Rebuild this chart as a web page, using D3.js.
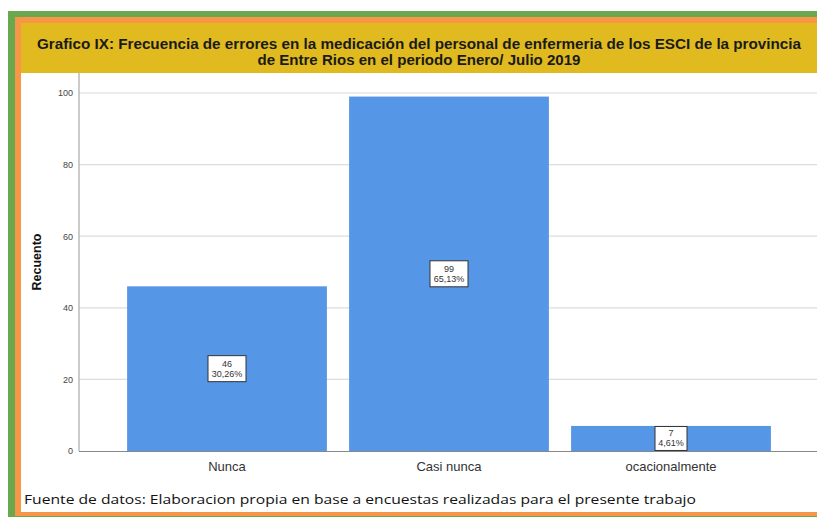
<!DOCTYPE html>
<html><head><meta charset="utf-8">
<script src="https://cdn.jsdelivr.net/npm/d3@7"></script>
<style>body{margin:0;background:#fff}svg{display:block}</style>
</head><body>
<script>
const categories = ["Nunca", "Casi nunca", "ocacionalmente"];
const counts = [46, 99, 7];
const percents = ["30,26%", "65,13%", "4,61%"];
const yTicks = [0, 20, 40, 60, 80, 100];
const titleLines = ["Grafico IX: Frecuencia de errores en la medicación del personal de enfermeria de los ESCI de la provincia", "de Entre Rios en el periodo Enero/ Julio 2019"];
const yTitle = "Recuento";
const footer = "Fuente de datos: Elaboracion propia en base a encuestas realizadas para el presente trabajo";

const W = 817, H = 517;
const svg = d3.select("body").append("svg").attr("width", W).attr("height", H);

// frame
svg.append("rect").attr("x", 8).attr("y", 11).attr("width", W - 8).attr("height", H - 11).attr("fill", "#6aa84f");
svg.append("rect").attr("x", 15).attr("y", 17).attr("width", W - 15).attr("height", 499).attr("fill", "#f79646");
svg.append("rect").attr("x", 21).attr("y", 23).attr("width", W - 21).attr("height", 489).attr("fill", "#ffffff");
svg.append("rect").attr("x", 21).attr("y", 23).attr("width", W - 21).attr("height", 50).attr("fill", "#e0ba1e");

const tl = svg.append("g").attr("font-family", "Liberation Sans, Arial, sans-serif").attr("font-weight", "bold").attr("fill", "#1a1a1a").attr("text-anchor", "middle");
tl.append("text").attr("x", 419).attr("y", 49).attr("font-size", 14.5).text(titleLines[0])
  .attr("textLength", 764).attr("lengthAdjust", "spacingAndGlyphs");
tl.append("text").attr("x", 419).attr("y", 65).attr("font-size", 14.5).text(titleLines[1])
  .attr("textLength", 323).attr("lengthAdjust", "spacingAndGlyphs");

const x0 = 79, y0 = 451;
const y = d3.scaleLinear().domain([0, 100]).range([451, 93]);
const x = d3.scaleBand().domain(categories).range([116, 782]).paddingInner(0.1).paddingOuter(0.05);

// grid
svg.append("g").selectAll("line").data(yTicks.filter(d => d > 0)).join("line")
  .attr("x1", x0).attr("x2", W).attr("y1", d => y(d)).attr("y2", d => y(d))
  .attr("stroke", "#dcdcdc").attr("stroke-width", 1.2);

const yAxis = svg.append("g").attr("transform", `translate(${x0},0)`)
  .call(d3.axisLeft(y).tickValues(yTicks).tickSize(0).tickPadding(6));
yAxis.select(".domain").remove();
yAxis.selectAll("text").attr("font-family", "Liberation Sans, Arial, sans-serif").attr("font-size", 9).attr("fill", "#444");

// bars
svg.append("g").selectAll("rect").data(counts).join("rect")
  .attr("x", (d, i) => x(categories[i])).attr("width", x.bandwidth())
  .attr("y", d => y(d)).attr("height", d => y(0) - y(d)).attr("fill", "#5596e6");

// axis lines
svg.append("line").attr("x1", x0).attr("x2", x0).attr("y1", 73).attr("y2", y0).attr("stroke", "#aaaaaa").attr("stroke-width", 1.2);
svg.append("line").attr("x1", x0).attr("x2", W).attr("y1", y0 + 0.5).attr("y2", y0 + 0.5).attr("stroke", "#888888").attr("stroke-width", 1.2);

// labels in boxes
const lab = svg.append("g").selectAll("g").data(counts).join("g")
  .attr("transform", (d, i) => `translate(${x(categories[i]) + x.bandwidth() / 2},${(y(d) + y(0)) / 2})`);
lab.append("rect").attr("x", (d, i) => i === 2 ? -16 : -19).attr("y", (d, i) => i === 2 ? -12 : -13)
  .attr("width", (d, i) => i === 2 ? 32 : 38).attr("height", (d, i) => i === 2 ? 24 : 26)
  .attr("fill", "#fff").attr("stroke", "#333").attr("stroke-width", 1);
lab.append("text").attr("text-anchor", "middle").attr("y", -2).attr("font-family", "Liberation Sans, Arial, sans-serif").attr("font-size", 9).attr("fill", "#333").text(d => d);
lab.append("text").attr("text-anchor", "middle").attr("y", 8).attr("font-family", "Liberation Sans, Arial, sans-serif").attr("font-size", 9).attr("fill", "#333").text((d, i) => percents[i]);

// x labels
svg.append("g").selectAll("text").data(categories).join("text")
  .attr("x", d => x(d) + x.bandwidth() / 2).attr("y", 471).attr("text-anchor", "middle")
  .attr("font-family", "Liberation Sans, Arial, sans-serif").attr("font-size", 13).attr("fill", "#333").text(d => d);

// y title
svg.append("text").attr("transform", "translate(41,262) rotate(-90)").attr("text-anchor", "middle")
  .attr("font-family", "Liberation Sans, Arial, sans-serif").attr("font-weight", "bold").attr("font-size", 12.5).attr("fill", "#111").text(yTitle);

// footer
const ft = svg.append("text").attr("x", 24).attr("y", 504).attr("font-family", "Open Sans, sans-serif").attr("font-size", 12.5).attr("fill", "#111").text(footer);
ft.attr("textLength", 672).attr("lengthAdjust", "spacingAndGlyphs");
</script>
</body></html>
